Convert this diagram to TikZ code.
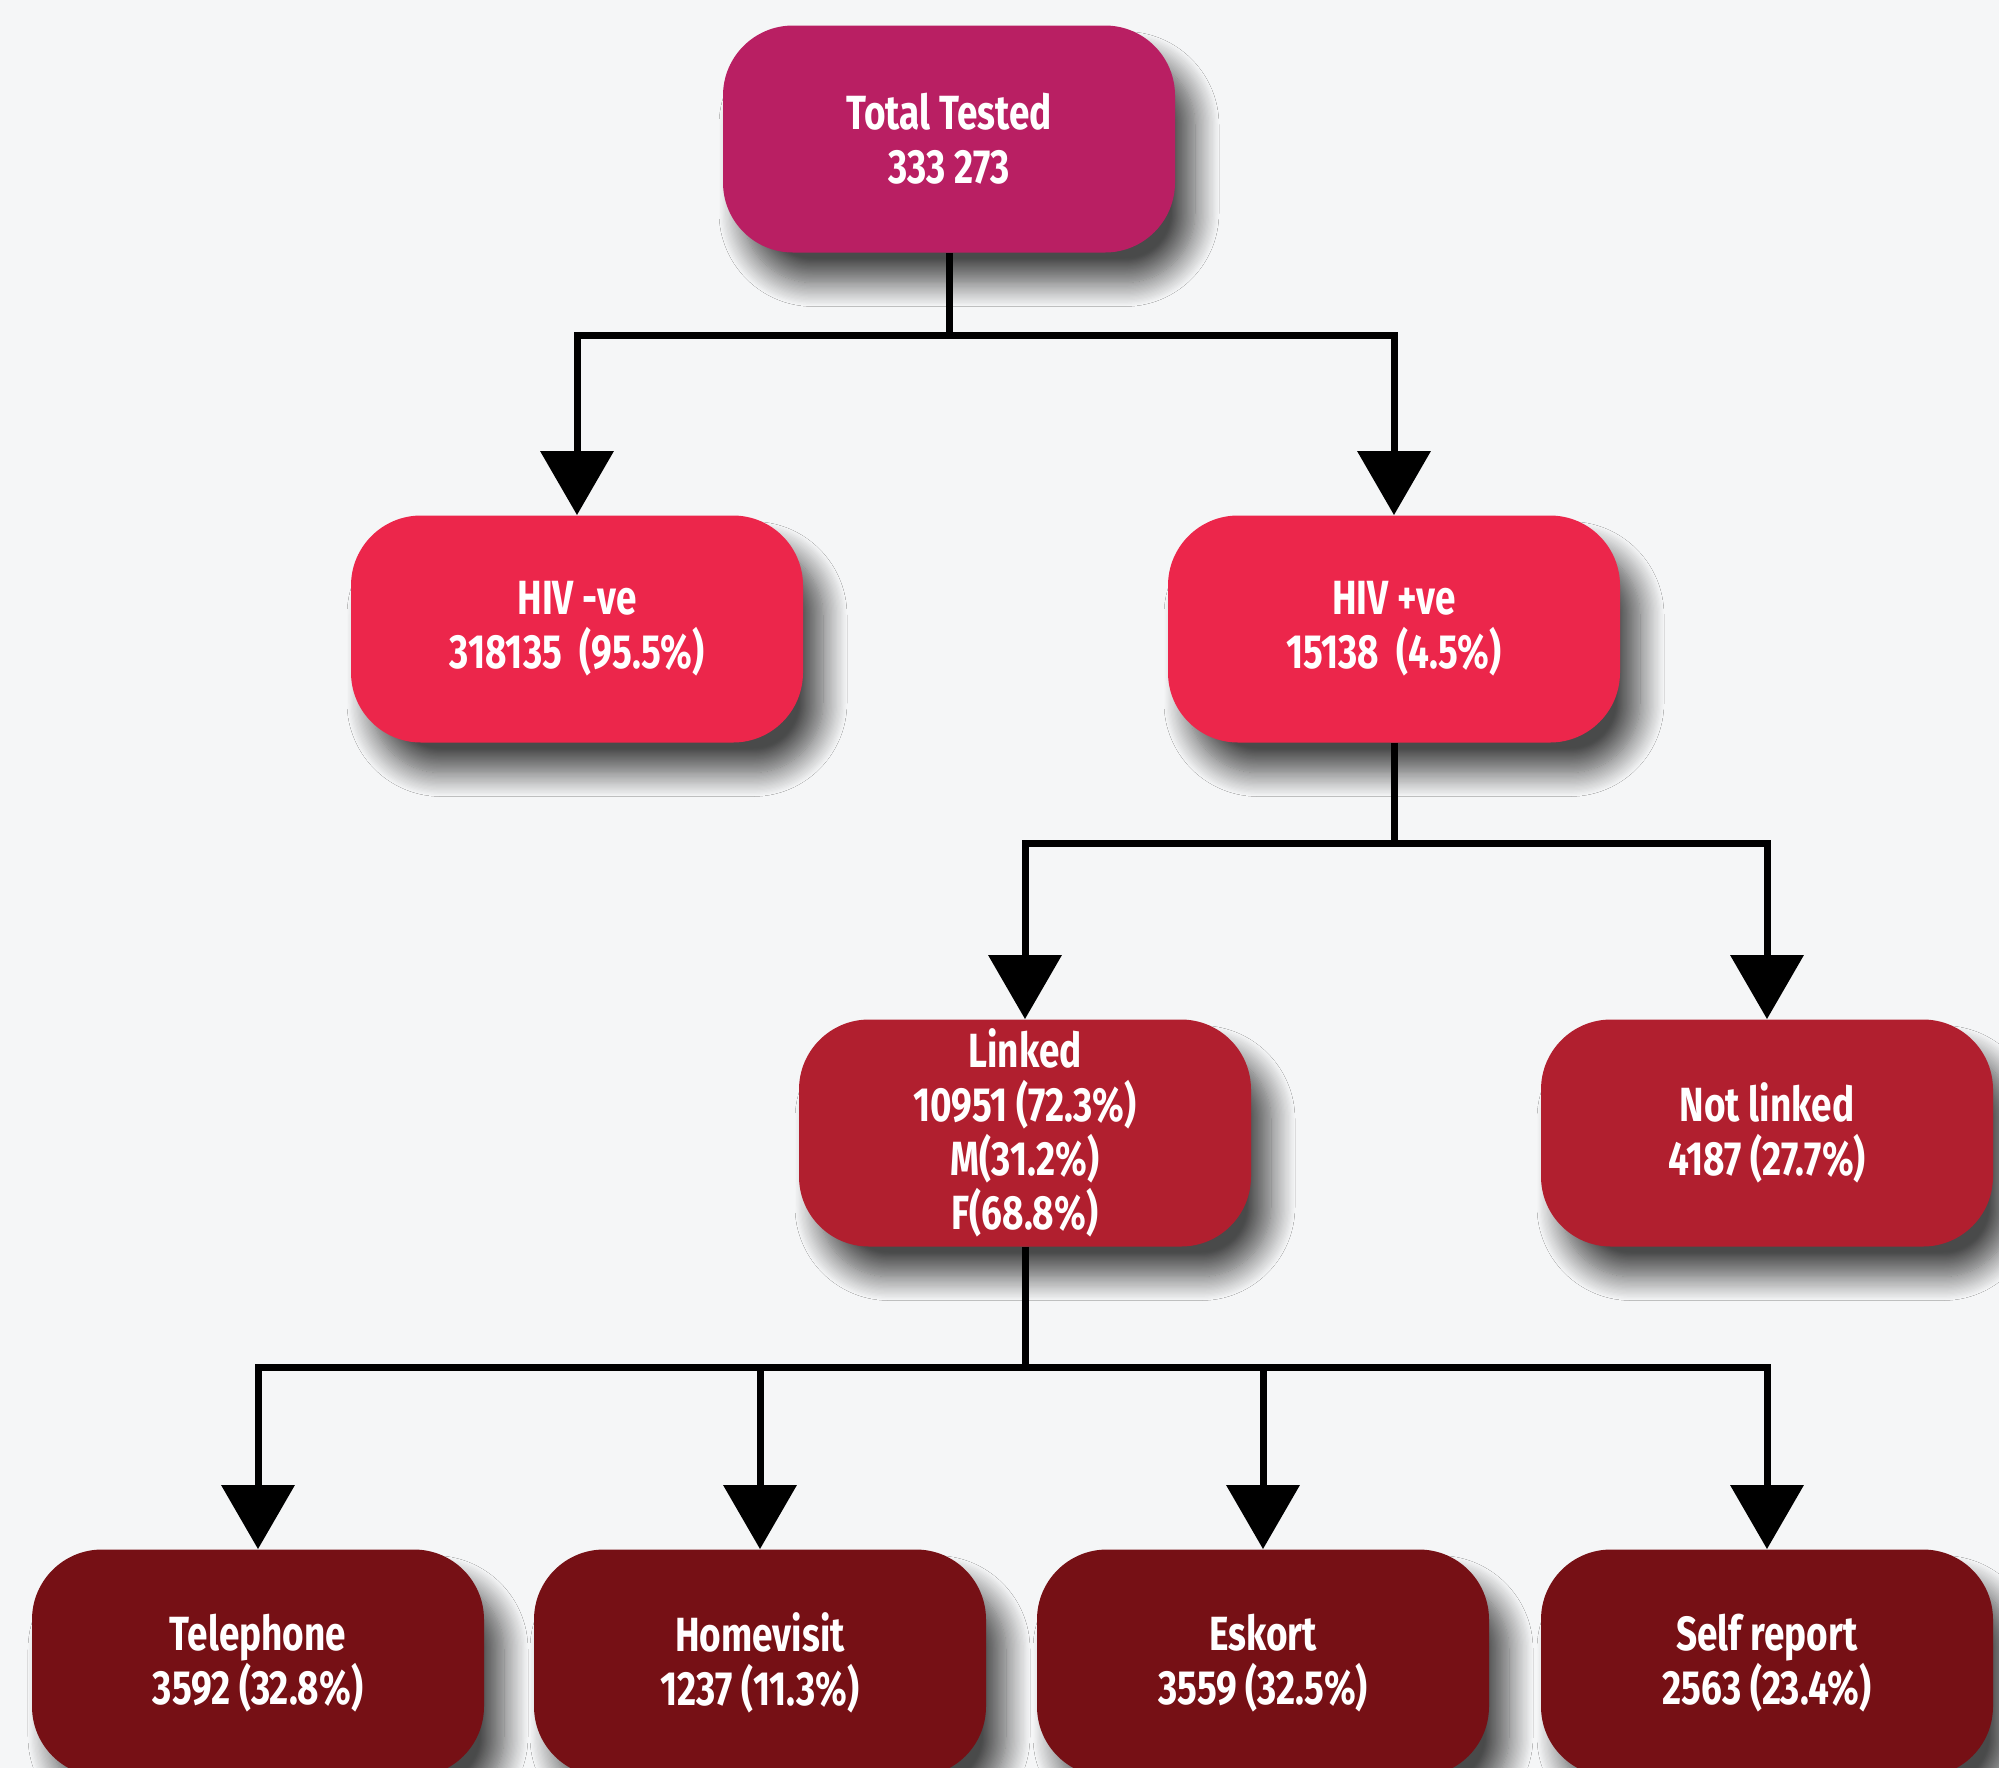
\documentclass[tikz,border=0pt]{standalone}
\usepackage{fontspec}
\setmainfont[FakeStretch=0.77]{Fira Sans}
\usetikzlibrary{arrows.meta,shadows.blur}
\definecolor{topmag}{HTML}{B91F63}
\definecolor{hivred}{HTML}{EC264B}
\definecolor{linkred}{HTML}{B11F2F}
\definecolor{methred}{HTML}{761015}
\definecolor{bggray}{HTML}{F5F6F7}

\begin{document}
\begin{tikzpicture}[
    x=0.5pt, y=-0.5pt,
    box/.style={rectangle, rounded corners=35pt, minimum width=226pt, minimum height=113.5pt, align=center, text=white, font=\fontsize{24}{27}\selectfont\bfseries, blur shadow={shadow xshift=10pt, shadow yshift=-15pt, shadow blur radius=12pt, shadow blur steps=20, shadow opacity=70}},
    topbox/.style={box, fill=topmag},
    hivbox/.style={box, fill=hivred},
    linkbox/.style={box, fill=linkred},
    methodbox/.style={box, fill=methred},
    line/.style={line width=3.5pt, black},
    arr/.style={line, -{Triangle[width=36pt, length=32pt]}},
]
\useasboundingbox (0,0) rectangle (1999,1768);
\clip (0,0) rectangle (1999,1768);
\fill[bggray] (0,0) rectangle (1999,1768);

\node[topbox] (total) at (949,139) {Total Tested\\333 273};
\node[hivbox] (hivneg) at (577,629) {HIV -ve\\318135\ \ (95.5\%)};
\node[hivbox] (hivpos) at (1394,629) {HIV +ve\\15138\ \ (4.5\%)};
\node[linkbox] (linked) at (1025,1133) {Linked\\10951 (72.3\%)\\M(31.2\%)\\F(68.8\%)};
\node[linkbox] (notlinked) at (1767,1133) {Not linked\\4187 (27.7\%)};
\node[methodbox] (phone) at (258,1663) {Telephone\\3592 (32.8\%)};
\node[methodbox] (home) at (760,1663) {Homevisit\\1237 (11.3\%)};
\node[methodbox] (eskort) at (1263,1663) {Eskort\\3559 (32.5\%)};
\node[methodbox] (self) at (1767,1663) {Self report\\2563 (23.4\%)};

\coordinate (split1) at (949,335);
\coordinate (split2) at (1394,843);
\coordinate (split3) at (1025,1367);

\draw[line] (total) -- (split1);
\draw[arr] (split1) -| (hivneg);
\draw[arr] (split1) -| (hivpos);
\draw[line] (hivpos) -- (split2);
\draw[arr] (split2) -| (linked);
\draw[arr] (split2) -| (notlinked);
\draw[line] (linked) -- (split3);
\draw[arr] (split3) -| (phone);
\draw[arr] (split3) -| (home);
\draw[arr] (split3) -| (eskort);
\draw[arr] (split3) -| (self);
\end{tikzpicture}
\end{document}
